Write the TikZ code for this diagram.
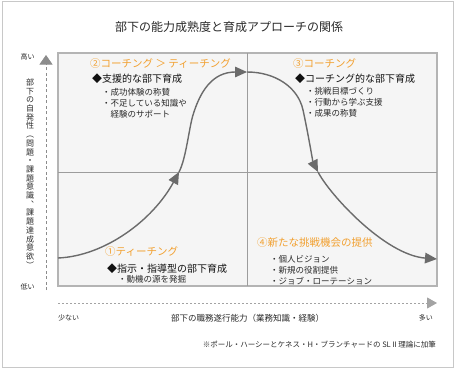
\documentclass[tikz,border=0pt]{standalone}
\usepackage{fontspec}
\setmainfont{Noto Sans CJK JP}
\usetikzlibrary{arrows.meta}
\definecolor{framegray}{HTML}{C8C8C8}
\definecolor{boxline}{HTML}{B4B4B4}
\definecolor{gridgray}{HTML}{9C9C9C}
\definecolor{boxfill}{HTML}{F5F5F5}
\definecolor{curvegray}{HTML}{6B6B6B}
\definecolor{orangetxt}{HTML}{F2A030}
\definecolor{txt}{HTML}{2A2A2A}
\definecolor{headtxt}{HTML}{111111}
\definecolor{axisgray}{HTML}{8C8C8C}
\begin{document}
\begin{tikzpicture}[x=1pt,y=-1pt,
 quadhead/.style={anchor=west, text=orangetxt, font=\fontsize{10.5}{12}\selectfont, inner sep=0pt},
 subhead/.style={anchor=west, text=headtxt, font=\fontsize{10}{12}\selectfont, inner sep=0pt},
 item/.style={anchor=west, text=txt, font=\fontsize{8.5}{10}\selectfont, inner sep=0pt},
 smalltxt/.style={text=txt, font=\fontsize{7}{8}\selectfont, inner sep=0pt},
 curveline/.style={draw=curvegray, line width=1.4pt},
 curvearrow/.style={curveline, -{Triangle[length=12pt,width=10.5pt]}},
]
\useasboundingbox (0,0) rectangle (457,369);
\draw[framegray, line width=1pt, fill=white] (2.5,2) rectangle (453,367);
\node[font=\fontsize{12}{14}\selectfont, text=txt] (title) at (229,27) {部下の能力成熟度と育成アプローチの関係};
% chart box
\draw[boxline, line width=1.6pt, fill=boxfill] (58,53) rectangle (437,286);
\draw[gridgray, line width=0.8pt] (247.5,53) -- (247.5,286);
\draw[gridgray, line width=0.8pt] (58,172) -- (437,172);
% curve
\coordinate (c0) at (58,258);
\coordinate (c1) at (179,172);
\coordinate (c2) at (193,115);
\coordinate (c3) at (247,72);
\coordinate (c4) at (303,110);
\coordinate (c5) at (318,172);
\coordinate (c6) at (437,259);
\draw[curvearrow] (c0) .. controls (105,256) and (153,220) .. (c1);
\draw[curveline] (c1) .. controls (186,159) and (189,128) .. (c2);
\draw[curvearrow] (c2) .. controls (200,92) and (212,72) .. (c3);
\draw[curveline] (c3) .. controls (275,72) and (298,87) .. (c4);
\draw[curvearrow] (c4) .. controls (307,128) and (313,162) .. (c5);
\draw[curvearrow] (c5) .. controls (330,195) and (385,255) .. (c6);
% quadrant texts
\node[quadhead] (q2) at (90,64) {②コーチング ＞ ティーチング};
\node[subhead] (q2h) at (92,79) {◆支援的な部下育成};
\node[item] (q2a) at (102,92) {・成功体験の称賛};
\node[item] (q2b) at (102,103) {・不足している知識や};
\node[item] (q2c) at (110.5,114) {経験のサポート};
\node[quadhead] (q3) at (293,64) {③コーチング};
\node[subhead] (q3h) at (295,79) {◆コーチング的な部下育成};
\node[item] (q3a) at (306,91) {・挑戦目標づくり};
\node[item] (q3b) at (306,102) {・行動から学ぶ支援};
\node[item] (q3c) at (306,113) {・成果の称賛};
\node[quadhead] (q1) at (105,252) {①ティーチング};
\node[subhead] (q1h) at (107,269) {◆指示・指導型の部下育成};
\node[item] (q1a) at (118,279) {・動機の源を発掘};
\node[quadhead] (q4) at (257,243) {④新たな挑戦機会の提供};
\node[item] (q4a) at (270,259) {・個人ビジョン};
\node[item] (q4b) at (270,270) {・新規の役割提供};
\node[item] (q4c) at (270,281) {・ジョブ・ローテーション};
% y axis
\coordinate (ybot) at (46,290);
\coordinate (ytop) at (46,55);
\draw[axisgray, line width=0.8pt, dash pattern=on 3pt off 2.5pt, -{Triangle[length=9.5pt,width=13pt]}] (ybot) -- (ytop);
\node[smalltxt] (high) at (27.5,57) {高い};
\node[smalltxt] (low) at (27.5,287) {低い};
\node[text=txt, font=\fontsize{8}{8.7}\selectfont, align=center, inner sep=0pt] (ylabel) at (30,173.5)
 {部\\下\\の\\自\\発\\性\\︵\\問\\題\\・\\課\\題\\意\\識\\︑\\課\\題\\達\\成\\意\\欲\\︶};
% x axis
\coordinate (xl) at (58,303);
\coordinate (xr) at (437,303);
\draw[axisgray!80, line width=1pt, dash pattern=on 2pt off 2pt, -{Triangle[length=10pt,width=11pt]}] (xl) -- (xr);
\node[smalltxt, anchor=west] (few) at (58,318) {少ない};
\node[text=txt, font=\fontsize{8.5}{10}\selectfont, inner sep=0pt] (xlabel) at (247.5,318) {部下の職務遂行能力（業務知識・経験）};
\node[smalltxt, anchor=east] (many) at (433,318) {多い};
\node[text=txt, font=\fontsize{7.5}{9}\selectfont, anchor=east, inner sep=0pt] (note) at (436,345) {※ポール・ハーシーとケネス・H・ブランチャードの SLⅡ理論に加筆};
\end{tikzpicture}
\end{document}
